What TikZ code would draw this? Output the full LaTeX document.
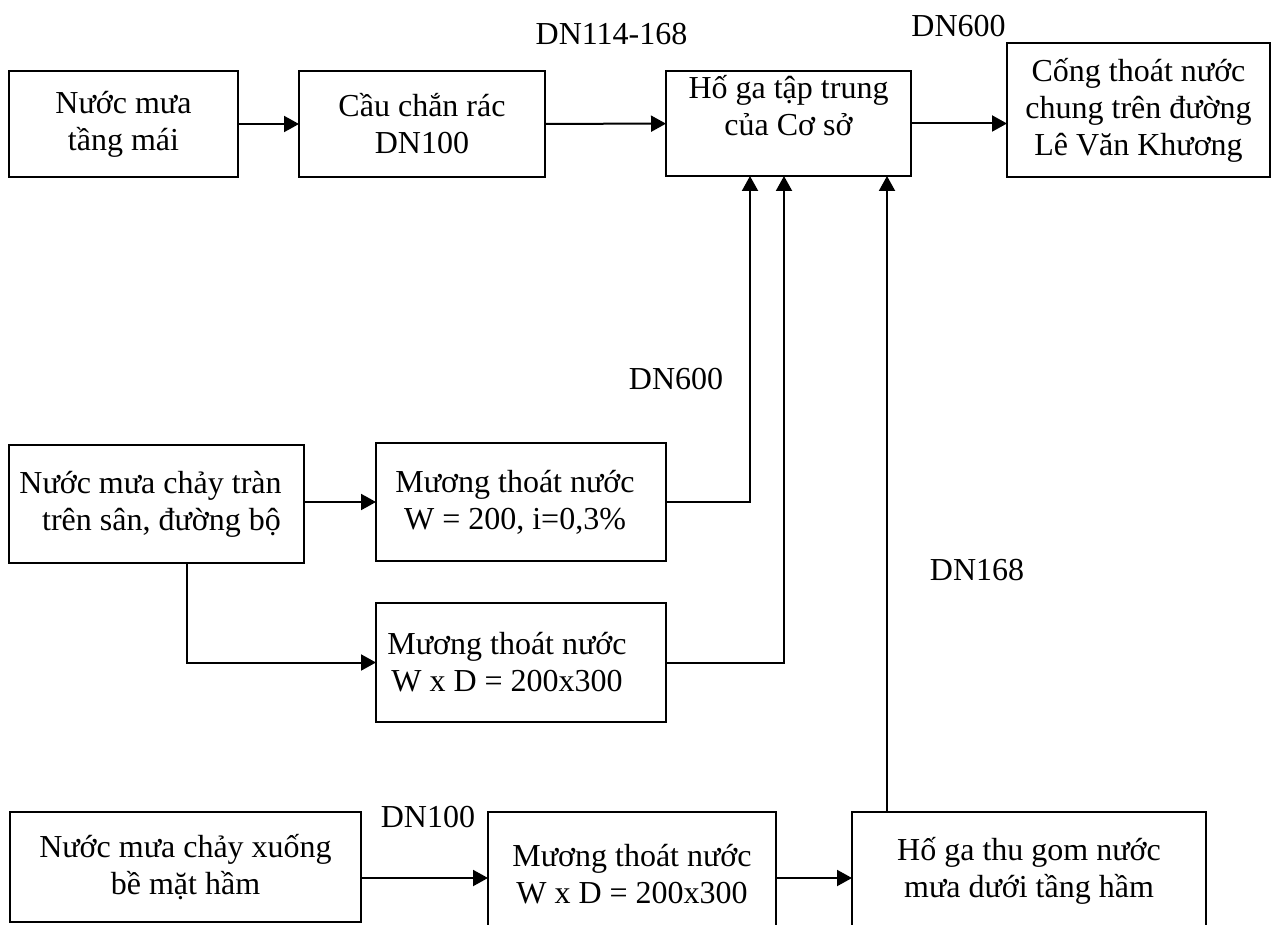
\documentclass[tikz,border=0pt]{standalone}
\usepackage{fontspec}
\setmainfont{Liberation Serif}
\usetikzlibrary{calc,arrows.meta}
\tikzset{
  box/.style 2 args={draw, line width=1pt, rectangle, inner sep=0pt, outer sep=0pt,
    align=center, minimum width=#1*0.5pt, minimum height=#2*0.5pt},
  arr/.style={line width=1pt, -{Triangle[length=7.5pt,width=8pt]}},
  lbl/.style={anchor=base, inner sep=0pt},
}
\begin{document}
\begin{tikzpicture}[x=0.5pt,y=-0.5pt,font=\fontsize{16}{18.5}\selectfont]
\useasboundingbox (0,0) rectangle (1274,925);
\clip (0,0) rectangle (1274,925);
% boxes
\node[box={229}{106}] (A) at (123.5,124) {Nước mưa\\tầng mái};
\node[box={246}{106}] (B) at (422,124) {Cầu chắn rác\\DN100};
\node[box={245}{105}] (C) at (788.5,123.5) {Hố ga tập trung\\của Cơ sở\\\mbox{}};
\node[box={263}{134}] (D) at (1138.5,110) {Cống thoát nước\\chung trên đường\\Lê Văn Khương};
\node[box={295}{118}] (E) at (156.5,504) {Nước mưa chảy tràn\hspace*{6pt}\\\hspace*{5pt}trên sân, đường bộ};
\node[box={290}{118}] (F) at (521,502) {Mương thoát nước\hspace*{6pt}\\W = 200, i=0,3\%\hspace*{6pt}};
\node[box={290}{119}] (G) at (521,662.5) {Mương thoát nước\hspace*{14pt}\\W x D = 200x300\hspace*{14pt}};
\node[box={351}{110}] (H) at (185.5,867) {Nước mưa chảy xuống\\bề mặt hầm};
\node[box={288}{125}] (I) at (632,874.5) {Mương thoát nước\\W x D = 200x300};
\node[box={354}{118}] (J) at (1029,871) {Hố ga thu gom nước\\mưa dưới tầng hầm};
% labels
\node[lbl] (l1) at (611.5,45) {DN114-168};
\node[lbl] (l2) at (958.5,37) {DN600};
\node[lbl] (l3) at (676,389) {DN600};
\node[lbl] (l4) at (977,580) {DN168};
\node[lbl] (l5) at (428,827) {DN100};
% connectors
\draw[arr] (A) -- (B);
\draw[arr] (B) -- (C);
\draw[arr] (C.east) -- (C.east -| D.west);
\draw[arr] (E.east |- F.west) -- (F.west);
\draw[arr] (F.east) -| ($(C.south west)+(84,0)$);
\draw[arr] ($(E.south west)+(178,0)$) |- (G.west);
\draw[arr] (G.east) -| ($(C.south west)+(118,0)$);
\draw[arr] ($(H.north east)+(0,66)$) -- ($(I.north west)+(0,66)$);
\draw[arr] ($(I.north east)+(0,66)$) -- ($(J.north west)+(0,66)$);
\coordinate (jt) at ($(J.north west)+(35,0)$);
\draw[arr] (jt) -- (jt |- C.south);
\end{tikzpicture}
\end{document}
